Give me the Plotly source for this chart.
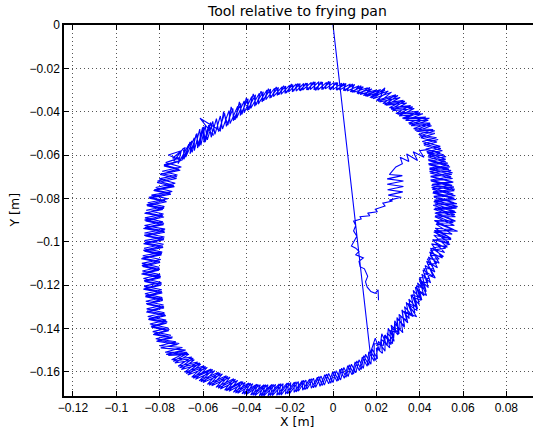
import plotly.graph_objects as go

# ---- data (metres) ----
start_x = [0.0]
start_y = [0.0]

# first lap of the ring, starting where the straight line meets it
lap1_x = [
    0.0172, 0.0195, 0.0215, 0.0225, 0.0250, 0.0255, 0.0280, 0.0285, 0.0310, 0.0305,
    0.0345, 0.0330, 0.0365, 0.0350, 0.0390, 0.0370, 0.0410, 0.0390, 0.0430, 0.0410,
    0.0450, 0.0425, 0.0470, 0.0440, 0.0490, 0.0450, 0.0515, 0.0460, 0.0535, 0.0470,
    0.0550, 0.0475, 0.0560, 0.0470, 0.0565, 0.0465, 0.0570, 0.0465, 0.0568, 0.0460,
    0.0560, 0.0455, 0.0555, 0.0450, 0.0548, 0.0445, 0.0540, 0.0440, 0.0520, 0.0435,
    0.0505, 0.0420, 0.0480, 0.0405, 0.0470, 0.0385, 0.0455, 0.0360, 0.0440, 0.0335,
    0.0415, 0.0305, 0.0375, 0.0275, 0.0340, 0.0245, 0.0310, 0.0215, 0.0270, 0.0185,
    0.0240, 0.0155, 0.0200, 0.0125, 0.0160, 0.0095, 0.0120, 0.0065, 0.0080, 0.0030,
    0.0040, 0.0000, 0.0005, -0.0035, -0.0030, -0.0070, -0.0065, -0.0105, -0.0100, -0.0140,
    -0.0135, -0.0170, -0.0170, -0.0205, -0.0200, -0.0240, -0.0235, -0.0275, -0.0270, -0.0310,
    -0.0305, -0.0345, -0.0340, -0.0380, -0.0375, -0.0410, -0.0410, -0.0445, -0.0440, -0.0475,
    -0.0480, -0.0510, -0.0520, -0.0545, -0.0555, -0.0580, -0.0590, -0.0610, -0.0615, -0.0640,
    -0.0640, -0.0680, -0.0665, -0.0715, -0.0700, -0.0760, -0.0700, -0.0780, -0.0710, -0.0795,
    -0.0720, -0.0810, -0.0735, -0.0825, -0.0750, -0.0850, -0.0775, -0.0860, -0.0780, -0.0865,
    -0.0785, -0.0870, -0.0780, -0.0868, -0.0778, -0.0872, -0.0780, -0.0868, -0.0785, -0.0875,
    -0.0790, -0.0880, -0.0800, -0.0882, -0.0800, -0.0878, -0.0795, -0.0872, -0.0790, -0.0870,
    -0.0790, -0.0865, -0.0785, -0.0862, -0.0780, -0.0858, -0.0775, -0.0850, -0.0765, -0.0840,
    -0.0755, -0.0825, -0.0740, -0.0810, -0.0710, -0.0790, -0.0680, -0.0760, -0.0665, -0.0730,
    -0.0640, -0.0700, -0.0610, -0.0670, -0.0580, -0.0635, -0.0545, -0.0600, -0.0510, -0.0560,
    -0.0475, -0.0520, -0.0440, -0.0480, -0.0405, -0.0440, -0.0370, -0.0400, -0.0335, -0.0360,
    -0.0300, -0.0320, -0.0265, -0.0280, -0.0230, -0.0240, -0.0195, -0.0200, -0.0160, -0.0160,
    -0.0125, -0.0120, -0.0090, -0.0080, -0.0055, -0.0040, -0.0020, 0.0000, 0.0015, 0.0035,
    0.0050, 0.0070, 0.0085, 0.0105, 0.0120, 0.0140, 0.0150, 0.0175, 0.0180, 0.0205,
]
lap1_y = [
    -0.1516, -0.1445, -0.1505, -0.1425, -0.1480, -0.1400, -0.1445, -0.1365, -0.1410, -0.1335,
    -0.1375, -0.1300, -0.1340, -0.1265, -0.1310, -0.1225, -0.1270, -0.1190, -0.1230, -0.1150,
    -0.1190, -0.1110, -0.1140, -0.1070, -0.1100, -0.1030, -0.1050, -0.0990, -0.1005, -0.0955,
    -0.0965, -0.0920, -0.0925, -0.0885, -0.0885, -0.0850, -0.0845, -0.0815, -0.0805, -0.0775,
    -0.0765, -0.0740, -0.0725, -0.0700, -0.0690, -0.0665, -0.0655, -0.0625, -0.0620, -0.0590,
    -0.0580, -0.0555, -0.0540, -0.0520, -0.0500, -0.0490, -0.0465, -0.0465, -0.0440, -0.0440,
    -0.0410, -0.0420, -0.0385, -0.0395, -0.0360, -0.0370, -0.0335, -0.0355, -0.0310, -0.0340,
    -0.0300, -0.0330, -0.0300, -0.0320, -0.0290, -0.0310, -0.0280, -0.0305, -0.0272, -0.0300,
    -0.0268, -0.0298, -0.0265, -0.0295, -0.0265, -0.0300, -0.0262, -0.0298, -0.0265, -0.0300,
    -0.0270, -0.0305, -0.0272, -0.0310, -0.0278, -0.0320, -0.0285, -0.0330, -0.0292, -0.0345,
    -0.0300, -0.0365, -0.0315, -0.0385, -0.0330, -0.0405, -0.0350, -0.0430, -0.0375, -0.0455,
    -0.0395, -0.0480, -0.0420, -0.0505, -0.0445, -0.0530, -0.0465, -0.0555, -0.0480, -0.0580,
    -0.0520, -0.0610, -0.0550, -0.0640, -0.0580, -0.0600, -0.0625, -0.0645, -0.0665, -0.0685,
    -0.0700, -0.0720, -0.0740, -0.0760, -0.0775, -0.0795, -0.0810, -0.0830, -0.0845, -0.0865,
    -0.0880, -0.0900, -0.0915, -0.0935, -0.0950, -0.0970, -0.0985, -0.1005, -0.1020, -0.1040,
    -0.1055, -0.1075, -0.1090, -0.1110, -0.1125, -0.1145, -0.1160, -0.1180, -0.1195, -0.1215,
    -0.1230, -0.1250, -0.1265, -0.1285, -0.1300, -0.1320, -0.1335, -0.1355, -0.1370, -0.1390,
    -0.1405, -0.1425, -0.1440, -0.1455, -0.1470, -0.1490, -0.1500, -0.1525, -0.1520, -0.1560,
    -0.1545, -0.1590, -0.1565, -0.1615, -0.1580, -0.1635, -0.1595, -0.1650, -0.1610, -0.1665,
    -0.1625, -0.1680, -0.1640, -0.1690, -0.1650, -0.1700, -0.1655, -0.1705, -0.1660, -0.1710,
    -0.1660, -0.1712, -0.1658, -0.1710, -0.1655, -0.1708, -0.1650, -0.1700, -0.1645, -0.1690,
    -0.1638, -0.1680, -0.1630, -0.1672, -0.1620, -0.1662, -0.1608, -0.1650, -0.1595, -0.1638,
    -0.1580, -0.1622, -0.1565, -0.1605, -0.1545, -0.1585, -0.1520, -0.1565, -0.1495, -0.1540,
]

# second lap of the ring
lap2_x = [
    0.0200, 0.0228, 0.0222, 0.0262, 0.0250, 0.0282, 0.0268, 0.0305, 0.0295, 0.0330,
    0.0318, 0.0352, 0.0338, 0.0378, 0.0360, 0.0398, 0.0380, 0.0420, 0.0398, 0.0440,
    0.0415, 0.0462, 0.0432, 0.0482, 0.0446, 0.0505, 0.0455, 0.0528, 0.0465, 0.0545,
    0.0472, 0.0558, 0.0468, 0.0562, 0.0470, 0.0568, 0.0462, 0.0572, 0.0466, 0.0565,
    0.0458, 0.0558, 0.0452, 0.0552, 0.0447, 0.0545, 0.0442, 0.0530, 0.0438, 0.0512,
    0.0428, 0.0495, 0.0412, 0.0478, 0.0395, 0.0462, 0.0372, 0.0448, 0.0348, 0.0428,
    0.0320, 0.0395, 0.0290, 0.0358, 0.0260, 0.0325, 0.0230, 0.0290, 0.0200, 0.0255,
    0.0170, 0.0220, 0.0140, 0.0180, 0.0110, 0.0140, 0.0080, 0.0100, 0.0048, 0.0060,
    0.0015, 0.0022, -0.0018, -0.0012, -0.0052, -0.0048, -0.0088, -0.0082, -0.0122, -0.0118,
    -0.0155, -0.0152, -0.0188, -0.0185, -0.0222, -0.0218, -0.0258, -0.0252, -0.0292, -0.0288,
    -0.0328, -0.0322, -0.0362, -0.0358, -0.0395, -0.0392, -0.0428, -0.0425, -0.0460, -0.0462,
    -0.0492, -0.0500, -0.0528, -0.0538, -0.0562, -0.0572, -0.0595, -0.0602, -0.0625, -0.0628,
    -0.0660, -0.0652, -0.0698, -0.0682, -0.0740,
    -0.0705, -0.0772, -0.0700, -0.0788, -0.0718, -0.0802, -0.0728, -0.0818, -0.0742, -0.0838,
    -0.0762, -0.0855, -0.0778, -0.0862, -0.0782, -0.0868, -0.0785, -0.0870, -0.0775, -0.0870,
    -0.0778, -0.0870, -0.0782, -0.0872, -0.0788, -0.0878, -0.0795, -0.0882, -0.0802, -0.0880,
    -0.0798, -0.0875, -0.0792, -0.0872, -0.0790, -0.0868, -0.0788, -0.0864, -0.0782, -0.0860,
    -0.0778, -0.0855, -0.0770, -0.0845, -0.0760, -0.0832, -0.0748, -0.0818, -0.0725, -0.0800,
    -0.0695, -0.0775,
    -0.0675, -0.0745, -0.0652, -0.0715, -0.0625, -0.0685, -0.0595, -0.0652, -0.0562, -0.0618,
    -0.0528, -0.0580, -0.0492, -0.0540, -0.0458, -0.0500, -0.0422, -0.0460, -0.0388, -0.0420,
    -0.0352, -0.0380, -0.0318, -0.0340, -0.0282, -0.0300, -0.0248, -0.0260, -0.0212, -0.0220,
    -0.0178, -0.0180, -0.0142, -0.0140, -0.0108, -0.0100, -0.0072, -0.0060, -0.0038, -0.0020,
    -0.0002, 0.0018, 0.0032, 0.0052, 0.0068, 0.0088, 0.0102, 0.0122, 0.0135, 0.0158,
    0.0165, 0.0190,
]
lap2_y = [
    -0.1490, -0.1515, -0.1450, -0.1490, -0.1420, -0.1460, -0.1385, -0.1425, -0.1350, -0.1395,
    -0.1315, -0.1355, -0.1280, -0.1330, -0.1245, -0.1290, -0.1210, -0.1250, -0.1170, -0.1212,
    -0.1130, -0.1160, -0.1090, -0.1120, -0.1048, -0.1075, -0.1010, -0.1025, -0.0970, -0.0985,
    -0.0938, -0.0945, -0.0902, -0.0905, -0.0868, -0.0865, -0.0832, -0.0825, -0.0795, -0.0788,
    -0.0758, -0.0748, -0.0720, -0.0708, -0.0683, -0.0672, -0.0645, -0.0638, -0.0608, -0.0600,
    -0.0572, -0.0560, -0.0538, -0.0520, -0.0505, -0.0482, -0.0478, -0.0452, -0.0452, -0.0425,
    -0.0430, -0.0398, -0.0408, -0.0372, -0.0382, -0.0348, -0.0362, -0.0322, -0.0348, -0.0305,
    -0.0335, -0.0298, -0.0325, -0.0295, -0.0315, -0.0285, -0.0308, -0.0275, -0.0302, -0.0270,
    -0.0300, -0.0266, -0.0296, -0.0262, -0.0298, -0.0264, -0.0299, -0.0263, -0.0299, -0.0268,
    -0.0302, -0.0270, -0.0308, -0.0275, -0.0315, -0.0282, -0.0325, -0.0288, -0.0338, -0.0296,
    -0.0355, -0.0308, -0.0375, -0.0322, -0.0395, -0.0340, -0.0418, -0.0362, -0.0442, -0.0385,
    -0.0468, -0.0408, -0.0492, -0.0432, -0.0518, -0.0455, -0.0542, -0.0472, -0.0568, -0.0500,
    -0.0595, -0.0535, -0.0625, -0.0565, -0.0615,
    -0.0612, -0.0635, -0.0655, -0.0675, -0.0692, -0.0710, -0.0730, -0.0750, -0.0768, -0.0785,
    -0.0802, -0.0820, -0.0838, -0.0855, -0.0872, -0.0890, -0.0908, -0.0925, -0.0942, -0.0960,
    -0.0978, -0.0995, -0.1012, -0.1030, -0.1048, -0.1065, -0.1082, -0.1100, -0.1118, -0.1135,
    -0.1152, -0.1170, -0.1188, -0.1205, -0.1222, -0.1240, -0.1258, -0.1275, -0.1292, -0.1310,
    -0.1328, -0.1345, -0.1362, -0.1380, -0.1398, -0.1415, -0.1432, -0.1448, -0.1462, -0.1480,
    -0.1488, -0.1510,
    -0.1510, -0.1545, -0.1532, -0.1575, -0.1555, -0.1602, -0.1572, -0.1625, -0.1588, -0.1642,
    -0.1602, -0.1658, -0.1618, -0.1672, -0.1632, -0.1685, -0.1645, -0.1695, -0.1652, -0.1702,
    -0.1658, -0.1708, -0.1660, -0.1711, -0.1659, -0.1711, -0.1656, -0.1709, -0.1652, -0.1704,
    -0.1648, -0.1695, -0.1641, -0.1685, -0.1634, -0.1676, -0.1625, -0.1667, -0.1614, -0.1656,
    -0.1602, -0.1644, -0.1588, -0.1630, -0.1572, -0.1614, -0.1555, -0.1595, -0.1532, -0.1575,
    -0.1508, -0.1552,
]

# third, rougher lap of the ring (with the visible spikes)
lap3_x = [
    0.0190, 0.0232, 0.0238, 0.0268, 0.0262, 0.0290, 0.0285, 0.0322, 0.0312, 0.0340,
    0.0330, 0.0386, 0.0348, 0.0388, 0.0372, 0.0405, 0.0388, 0.0432, 0.0405, 0.0438,
    0.0420, 0.0472, 0.0438, 0.0478, 0.0448, 0.0510, 0.0458, 0.0540, 0.0470, 0.0535,
    0.0468, 0.0575, 0.0478, 0.0555, 0.0472, 0.0562, 0.0470, 0.0575, 0.0468, 0.0560,
    0.0462, 0.0562, 0.0458, 0.0548, 0.0450, 0.0552, 0.0446, 0.0535, 0.0440, 0.0522,
    0.0432, 0.0498, 0.0418, 0.0485, 0.0400, 0.0470, 0.0378, 0.0450, 0.0352, 0.0445,
    0.0325, 0.0402, 0.0298, 0.0368, 0.0268, 0.0332, 0.0238, 0.0300, 0.0208, 0.0240,
    0.0178, 0.0215, 0.0148, 0.0170, 0.0115, 0.0130, 0.0088, 0.0090, 0.0055, 0.0050,
    0.0020, 0.0015, -0.0012, -0.0020, -0.0045, -0.0055, -0.0080, -0.0090, -0.0115, -0.0125,
    -0.0150, -0.0162, -0.0182, -0.0192, -0.0215, -0.0228, -0.0250, -0.0262, -0.0285, -0.0298,
    -0.0320, -0.0332, -0.0355, -0.0368, -0.0388, -0.0400, -0.0420, -0.0432, -0.0452, -0.0470,
    -0.0485, -0.0505, -0.0520, -0.0614, -0.0552, -0.0565, -0.0590, -0.0598, -0.0618, -0.0632,
    -0.0650, -0.0660, -0.0688, -0.0690, -0.0735,
    -0.0712, -0.0780, -0.0705, -0.0798, -0.0722, -0.0812, -0.0732, -0.0828, -0.0748, -0.0848,
    -0.0768, -0.0858, -0.0785, -0.0870, -0.0780, -0.0865, -0.0782, -0.0875, -0.0776, -0.0866,
    -0.0780, -0.0874, -0.0784, -0.0870, -0.0792, -0.0885, -0.0798, -0.0879, -0.0803, -0.0884,
    -0.0796, -0.0870, -0.0794, -0.0875, -0.0788, -0.0866, -0.0786, -0.0860, -0.0780, -0.0862,
    -0.0772, -0.0852, -0.0768, -0.0838, -0.0758, -0.0830, -0.0742, -0.0815, -0.0718, -0.0795,
    -0.0690, -0.0770,
    -0.0670, -0.0738, -0.0645, -0.0708, -0.0615, -0.0678, -0.0588, -0.0645, -0.0555, -0.0610,
    -0.0520, -0.0572, -0.0485, -0.0530, -0.0450, -0.0492, -0.0415, -0.0450, -0.0380, -0.0410,
    -0.0345, -0.0370, -0.0310, -0.0330, -0.0275, -0.0290, -0.0240, -0.0250, -0.0205, -0.0210,
    -0.0170, -0.0170, -0.0135, -0.0130, -0.0100, -0.0090, -0.0065, -0.0050, -0.0030, -0.0010,
    0.0005, 0.0025, 0.0040, 0.0060, 0.0075, 0.0095, 0.0110, 0.0130, 0.0142, 0.0165,
    0.0172, 0.0198,
]
lap3_y = [
    -0.1470, -0.1478, -0.1432, -0.1475, -0.1410, -0.1418, -0.1378, -0.1420, -0.1345, -0.1362,
    -0.1322, -0.1346, -0.1290, -0.1318, -0.1258, -0.1270, -0.1220, -0.1248, -0.1185, -0.1190,
    -0.1145, -0.1168, -0.1105, -0.1100, -0.1062, -0.1068, -0.1030, -0.1012, -0.0992, -0.0978,
    -0.0948, -0.0952, -0.0915, -0.0912, -0.0880, -0.0875, -0.0845, -0.0838, -0.0808, -0.0800,
    -0.0770, -0.0758, -0.0735, -0.0722, -0.0698, -0.0682, -0.0660, -0.0648, -0.0620, -0.0608,
    -0.0585, -0.0570, -0.0548, -0.0528, -0.0512, -0.0488, -0.0485, -0.0458, -0.0458, -0.0430,
    -0.0432, -0.0405, -0.0412, -0.0378, -0.0388, -0.0352, -0.0368, -0.0325, -0.0352, -0.0290,
    -0.0338, -0.0300, -0.0328, -0.0288, -0.0318, -0.0280, -0.0310, -0.0272, -0.0304, -0.0268,
    -0.0300, -0.0265, -0.0300, -0.0260, -0.0296, -0.0262, -0.0302, -0.0262, -0.0300, -0.0268,
    -0.0304, -0.0270, -0.0306, -0.0272, -0.0314, -0.0280, -0.0322, -0.0286, -0.0335, -0.0294,
    -0.0350, -0.0305, -0.0370, -0.0318, -0.0392, -0.0336, -0.0412, -0.0355, -0.0438, -0.0378,
    -0.0462, -0.0400, -0.0488, -0.0430, -0.0510, -0.0450, -0.0540, -0.0470, -0.0560, -0.0505,
    -0.0588, -0.0540, -0.0620, -0.0568, -0.0628,
    -0.0630, -0.0650, -0.0670, -0.0690, -0.0708, -0.0727, -0.0746, -0.0764, -0.0781, -0.0799,
    -0.0816, -0.0834, -0.0851, -0.0869, -0.0886, -0.0904, -0.0921, -0.0939, -0.0956, -0.0974,
    -0.0991, -0.1009, -0.1026, -0.1044, -0.1061, -0.1079, -0.1096, -0.1114, -0.1131, -0.1149,
    -0.1166, -0.1184, -0.1201, -0.1219, -0.1236, -0.1254, -0.1271, -0.1289, -0.1306, -0.1324,
    -0.1341, -0.1359, -0.1376, -0.1394, -0.1411, -0.1428, -0.1444, -0.1459, -0.1474, -0.1490,
    -0.1500, -0.1520,
    -0.1515, -0.1552, -0.1538, -0.1582, -0.1560, -0.1608, -0.1576, -0.1630, -0.1590, -0.1646,
    -0.1606, -0.1662, -0.1622, -0.1676, -0.1635, -0.1688, -0.1646, -0.1698, -0.1653, -0.1704,
    -0.1659, -0.1709, -0.1660, -0.1712, -0.1658, -0.1710, -0.1655, -0.1708, -0.1651, -0.1702,
    -0.1646, -0.1693, -0.1640, -0.1683, -0.1632, -0.1674, -0.1622, -0.1664, -0.1611, -0.1653,
    -0.1598, -0.1641, -0.1584, -0.1626, -0.1568, -0.1610, -0.1550, -0.1590, -0.1526, -0.1570,
    -0.1502, -0.1548,
]

# partial last pass up the right side, to where the inner branch leaves
tail_x = [
    0.0210, 0.0240, 0.0240, 0.0275, 0.0270, 0.0300, 0.0295, 0.0330, 0.0320, 0.0370,
    0.0345, 0.0385, 0.0365, 0.0405, 0.0385, 0.0425, 0.0400, 0.0445, 0.0420, 0.0465,
    0.0435, 0.0490, 0.0450, 0.0520, 0.0460, 0.0545, 0.0465, 0.0555, 0.0470, 0.0565,
    0.0475, 0.0562, 0.0470, 0.0560, 0.0465, 0.0555, 0.0455, 0.0550, 0.0450, 0.0545,
    0.0445, 0.0535, 0.0440, 0.0520, 0.0440, 0.0495, 0.0435,
]
tail_y = [
    -0.1460, -0.1505, -0.1430, -0.1470, -0.1395, -0.1430, -0.1355, -0.1390, -0.1320, -0.1345,
    -0.1285, -0.1300, -0.1245, -0.1260, -0.1205, -0.1215, -0.1165, -0.1170, -0.1125, -0.1125,
    -0.1080, -0.1080, -0.1040, -0.1030, -0.0995, -0.0990, -0.0955, -0.0945, -0.0905, -0.0905,
    -0.0865, -0.0860, -0.0825, -0.0820, -0.0790, -0.0780, -0.0750, -0.0740, -0.0715, -0.0700,
    -0.0675, -0.0665, -0.0640, -0.0630, -0.0600, -0.0590, -0.0575,
]

branch_x = [
    0.0400, 0.0420, 0.0370, 0.0390, 0.0340, 0.0350, 0.0310, 0.0320, 0.0290, 0.0260,
    0.0320, 0.0250, 0.0325, 0.0250, 0.0325, 0.0252, 0.0322, 0.0255, 0.0315, 0.0260,
    0.0275, 0.0230, 0.0240, 0.0195, 0.0205, 0.0160, 0.0170, 0.0125, 0.0130, 0.0095,
    0.0105, 0.0095, 0.0110, 0.0100, 0.0085, 0.0105, 0.0120, 0.0105, 0.0140, 0.0120,
    0.0125, 0.0145, 0.0160, 0.0150, 0.0158, 0.0175, 0.0195, 0.0208, 0.0210,
]
branch_y = [
    -0.0580, -0.0610, -0.0585, -0.0625, -0.0595, -0.0630, -0.0610, -0.0640, -0.0655, -0.0690,
    -0.0695, -0.0710, -0.0720, -0.0735, -0.0745, -0.0760, -0.0770, -0.0785, -0.0795, -0.0808,
    -0.0812, -0.0822, -0.0835, -0.0850, -0.0862, -0.0868, -0.0880, -0.0885, -0.0895, -0.0905,
    -0.0925, -0.0950, -0.0975, -0.0995, -0.1020, -0.1030, -0.1045, -0.1060, -0.1075, -0.1090,
    -0.1115, -0.1125, -0.1160, -0.1185, -0.1210, -0.1230, -0.1238, -0.1222, -0.1270,
]

x_ticks = [-0.12, -0.10, -0.08, -0.06, -0.04, -0.02, 0.0, 0.02, 0.04, 0.06, 0.08]
x_tick_text = ["\u22120.12", "\u22120.1", "\u22120.08", "\u22120.06", "\u22120.04",
               "\u22120.02", "0", "0.02", "0.04", "0.06", "0.08"]
y_ticks = [0.0, -0.02, -0.04, -0.06, -0.08, -0.10, -0.12, -0.14, -0.16]
y_tick_text = ["0", "\u22120.02", "\u22120.04", "\u22120.06", "\u22120.08",
               "\u22120.1", "\u22120.12", "\u22120.14", "\u22120.16"]

title_text = "Tool relative to frying pan"
x_label = "X [m]"
y_label = "Y [m]"

# ---- figure ----
path_x = start_x + lap1_x + lap2_x + lap3_x + tail_x + branch_x
path_y = start_y + lap1_y + lap2_y + lap3_y + tail_y + branch_y

fig = go.Figure()
fig.add_trace(go.Scatter(x=path_x, y=path_y, mode="lines",
                         line=dict(color="#0000ff", width=1.1),
                         showlegend=False, hoverinfo="skip"))

tick_font = "Liberation Sans, Arial, sans-serif"
label_font = "DejaVu Sans, sans-serif"
axis_common = dict(
    showline=True, linecolor="black", linewidth=1.5,
    ticks="inside", ticklen=5, tickcolor="black", tickwidth=1,
    showgrid=True, gridcolor="#555555", gridwidth=1, griddash="1px,3px",
    zeroline=False, tickfont=dict(family=tick_font, size=12, color="black"),
)

fig.update_layout(
    width=533, height=434,
    margin=dict(l=64, r=0, t=25, b=38),
    paper_bgcolor="white", plot_bgcolor="white",
    xaxis=dict(range=[-0.12415, 0.0923], tickvals=x_ticks, ticktext=x_tick_text,
               mirror="ticks", **axis_common),
    yaxis=dict(range=[-0.1712, 0.0], tickvals=y_ticks, ticktext=y_tick_text,
               mirror=False, **axis_common),
    annotations=[
        dict(text=title_text, xref="paper", yref="paper", x=0.496, y=1.0377,
             xanchor="center", yanchor="middle", showarrow=False,
             font=dict(family=label_font, size=14, color="black")),
        dict(text=x_label, xref="paper", yref="paper", x=0.496, y=-0.0674,
             xanchor="center", yanchor="middle", showarrow=False,
             font=dict(family=label_font, size=12.5, color="black")),
        dict(text=y_label, xref="paper", yref="paper", x=-0.1066, y=0.5,
             xanchor="center", yanchor="middle", showarrow=False, textangle=-90,
             font=dict(family=label_font, size=12.5, color="black")),
    ],
)

fig.write_html("out.html", config={"displayModeBar": False},
               post_script="document.body.style.margin='0px';")
